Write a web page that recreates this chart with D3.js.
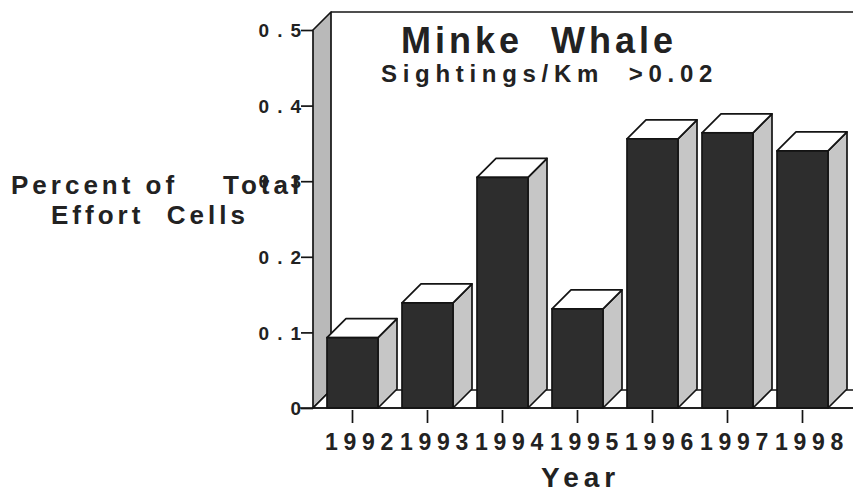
<!DOCTYPE html>
<html><head><meta charset="utf-8">
<script src="https://cdn.jsdelivr.net/npm/d3@7"></script>
<style>
body{margin:0;background:#fff}
svg{display:block}
text{font-family:"Liberation Sans",Arial,Helvetica,sans-serif;font-weight:bold;fill:#222;white-space:pre}
</style>
</head><body>
<svg id="chart" width="853" height="495"></svg>
<script>
// ---- data ----
const years = ["1992","1993","1994","1995","1996","1997","1998"];
const values = [0.093, 0.139, 0.305, 0.131, 0.356, 0.364, 0.340];
const yTickValues = [0, 0.1, 0.2, 0.3, 0.4, 0.5];
const yTickLabels = ["0", "0.1", "0.2", "0.3", "0.4", "0.5"];
const titleText = "Minke  Whale";
const subtitleText = "Sightings/Km  >0.02";
const yTitleLines = ["Percent of    Total", "Effort  Cells"];
const xTitleText = "Year";

// ---- layout ----
const svg = d3.select("#chart");
const y = d3.scaleLinear().domain([0, 0.5]).range([408, 30]);
const x = d3.scaleBand().domain(years).range([315, 840]).paddingInner(0.32).paddingOuter(0.16);
const wallX = 313, depth = 18, barDX = 19, barDY = 19;
const line = "#141414", sw = 1.7;
const base = y(0);

// back wall (left side strip)
svg.append("polygon")
  .attr("points", [[wallX, base], [wallX, y(0.5)], [wallX + depth, y(0.5) - depth], [wallX + depth, base - depth]].join(" "))
  .attr("fill", "#b9b9b9").attr("stroke", line).attr("stroke-width", sw).attr("stroke-linejoin", "round");
// top edge of back wall
svg.append("line").attr("x1", wallX + depth).attr("y1", y(0.5) - depth).attr("x2", 853).attr("y2", y(0.5) - depth)
  .attr("stroke", line).attr("stroke-width", sw);
// floor
svg.append("polygon")
  .attr("points", [[wallX, base], [wallX + depth, base - depth], [860, base - depth], [860, base]].join(" "))
  .attr("fill", "#fff").attr("stroke", line).attr("stroke-width", sw);

// bars
const bars = svg.append("g").selectAll("g").data(years.map((yr, i) => ({yr, v: values[i]}))).join("g");
bars.append("polygon") // side face
  .attr("points", d => {
    const x1 = x(d.yr) + x.bandwidth(), yt = y(d.v);
    return [[x1, yt], [x1 + barDX, yt - barDY], [x1 + barDX, base - barDY], [x1, base]].join(" ");
  })
  .attr("fill", "#c6c6c6").attr("stroke", line).attr("stroke-width", sw).attr("stroke-linejoin", "round");
bars.append("polygon") // top face
  .attr("points", d => {
    const x0 = x(d.yr), x1 = x0 + x.bandwidth(), yt = y(d.v);
    return [[x0, yt], [x0 + barDX, yt - barDY], [x1 + barDX, yt - barDY], [x1, yt]].join(" ");
  })
  .attr("fill", "#fff").attr("stroke", line).attr("stroke-width", sw).attr("stroke-linejoin", "round");
bars.append("rect") // front face
  .attr("x", d => x(d.yr)).attr("y", d => y(d.v))
  .attr("width", x.bandwidth()).attr("height", d => base - y(d.v))
  .attr("fill", "#2d2d2d").attr("stroke", line).attr("stroke-width", sw);

// floor front line
svg.append("line").attr("x1", 300).attr("y1", base).attr("x2", 853).attr("y2", base)
  .attr("stroke", line).attr("stroke-width", sw);

// y axis
const yAxis = svg.append("g").attr("transform", `translate(${wallX},0)`)
  .call(d3.axisLeft(y).tickValues(yTickValues).tickSize(12).tickFormat((d, i) => yTickLabels[i]));
yAxis.select(".domain").remove();
yAxis.selectAll(".tick line").attr("stroke", line).attr("stroke-width", sw);
yAxis.selectAll(".tick text")
  .attr("x", -4).attr("dy", "0.35em")
  .attr("font-size", 19).attr("letter-spacing", 8)
  .attr("fill", "#222").attr("font-family", null);

// x axis
const xAxis = svg.append("g").attr("transform", `translate(0,${base + 2})`)
  .call(d3.axisBottom(x).tickSize(13).tickPadding(0));
xAxis.select(".domain").remove();
xAxis.selectAll(".tick line").attr("stroke", line).attr("stroke-width", sw);
xAxis.selectAll(".tick text")
  .attr("x", -x.bandwidth() / 2 - 2).attr("y", 40).attr("dy", 0)
  .attr("text-anchor", "start")
  .attr("font-size", 23).attr("letter-spacing", 5.7)
  .attr("fill", "#222").attr("font-family", null);

// titles
svg.append("text").attr("x", 401).attr("y", 53).attr("font-size", 36).attr("letter-spacing", 4).text(titleText);
svg.append("text").attr("x", 381).attr("y", 82).attr("font-size", 24).attr("letter-spacing", 5.7).text(subtitleText);
svg.append("text").attr("x", 541).attr("y", 487).attr("font-size", 28).attr("letter-spacing", 5).text(xTitleText);
const yt = svg.append("g");
yt.append("text").attr("x", 11).attr("y", 194).attr("font-size", 26).attr("letter-spacing", 4).text(yTitleLines[0]);
yt.append("text").attr("x", 51).attr("y", 224).attr("font-size", 26).attr("letter-spacing", 4).text(yTitleLines[1]);
</script>
</body></html>
